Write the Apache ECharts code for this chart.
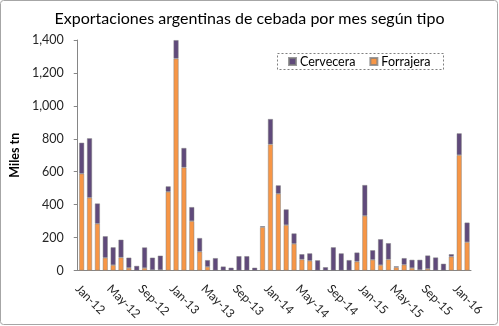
<!DOCTYPE html>
<html>
<head>
<meta charset="utf-8">
<script src="https://cdn.jsdelivr.net/npm/echarts@6/dist/echarts.min.js"></script>
<style>
  html, body { margin: 0; padding: 0; background: #ffffff; }
  #chart { width: 499px; height: 326px; }
</style>
</head>
<body>
<div id="chart"></div>
<script>
// Monthly categories, Jan-12 .. Feb-16
const months = [
  'Jan-12','Feb-12','Mar-12','Apr-12','May-12','Jun-12','Jul-12','Aug-12','Sep-12','Oct-12','Nov-12','Dec-12',
  'Jan-13','Feb-13','Mar-13','Apr-13','May-13','Jun-13','Jul-13','Aug-13','Sep-13','Oct-13','Nov-13','Dec-13',
  'Jan-14','Feb-14','Mar-14','Apr-14','May-14','Jun-14','Jul-14','Aug-14','Sep-14','Oct-14','Nov-14','Dec-14',
  'Jan-15','Feb-15','Mar-15','Apr-15','May-15','Jun-15','Jul-15','Aug-15','Sep-15','Oct-15','Nov-15','Dec-15',
  'Jan-16','Feb-16'
];

// Forage barley (thousand tonnes)
const forrajera = [
  588, 442, 284,  77,  33,  79,  16,   0,  15,   3,   3, 478,
  1287, 626, 300, 114,  22,   0,   0,   0,   0,   0,   0, 263,
  766, 466, 276, 162,  67,  59,   0,   0,   0,   0,   0,  54,
  332,  65,  33,  67,  19,  35,  15,   3,  10,   0,   0,  84,
  701, 172
];

// Malting barley (thousand tonnes)
const cervecera = [
  188, 361, 123, 131, 108, 108,  62,  28, 125,  75,  87,  33,
  112, 118,  85,  83,  41,  75,  24,  17,  87,  87,  17,   6,
  154,  51,  95,  63,  32,  45,  62,  20, 141, 104,  63,  55,
  187,  58, 157,  99,   6,  40,  50,  62,  81,  79,  41,  15,
  132, 119
];

const yMin = 0;
const yMax = 1400;
const yStep = 200;

const titleText = 'Exportaciones argentinas de cebada por mes según tipo';
const yName = 'Miles tn';
const seriesNames = ['Cervecera', 'Forrajera'];

const FONT = 'Lato, "Liberation Sans", sans-serif';
const PURPLE = '#604a7b';
const ORANGE = '#f79646';

const withCommas = v => String(v).replace(/\B(?=(\d{3})+(?!\d))/g, ',');

const chart = echarts.init(document.getElementById('chart'), null, { renderer: 'canvas' });

chart.setOption({
  animation: false,
  backgroundColor: '#ffffff',
  title: {
    text: titleText,
    left: 'center',
    top: 6,
    textStyle: { fontFamily: FONT, fontSize: 16, fontWeight: 'normal', color: '#000000' }
  },
  legend: {
    data: seriesNames,
    left: 288,
    top: 55,
    padding: 0,
    itemWidth: 7,
    itemHeight: 7,
    itemGap: 14,
    icon: 'rect',
    textStyle: { fontFamily: FONT, fontSize: 12.5, color: '#000000', padding: [0, 0, 0, -1] }
  },
  grid: { left: 71, right: 28, top: 40, bottom: 55.5, containLabel: false },
  xAxis: {
    type: 'category',
    data: months,
    boundaryGap: true,
    axisLine: { lineStyle: { color: '#868686', width: 1 } },
    axisTick: { interval: 3, length: 4, lineStyle: { color: '#868686' } },
    axisLabel: {
      interval: 3,
      rotate: -45,
      margin: 12,
      verticalAlign: 'top',
      fontFamily: FONT,
      fontSize: 12,
      color: '#262626'
    },
    splitLine: { show: false }
  },
  yAxis: {
    type: 'value',
    min: yMin,
    max: yMax,
    interval: yStep,
    name: yName,
    nameLocation: 'middle',
    nameRotate: 90,
    nameGap: 44,
    nameTextStyle: { fontFamily: FONT, fontSize: 12.5, fontWeight: 'bold', color: '#000000' },
    axisLine: { show: true, lineStyle: { color: '#868686', width: 1 } },
    axisTick: { show: true, length: 4, lineStyle: { color: '#868686' } },
    axisLabel: {
      margin: 14,
      fontFamily: FONT,
      fontSize: 12.5,
      color: '#262626',
      formatter: withCommas
    },
    splitLine: { show: false }
  },
  graphic: [
    {
      type: 'rect',
      shape: { x: 0.5, y: 0.5, width: 497, height: 324, r: 3 },
      style: { fill: 'none', stroke: '#a6a6a6', lineWidth: 1 },
      silent: true, z: 100
    },
    {
      type: 'rect',
      shape: { x: 277.5, y: 53.5, width: 166, height: 16 },
      style: { fill: 'none', stroke: '#7f7f7f', lineWidth: 1, lineDash: [2, 2] },
      silent: true, z: 100
    }
  ],
  series: [
    {
      name: 'Forrajera',
      type: 'bar',
      stack: 'total',
      barWidth: 5,
      data: forrajera,
      itemStyle: { color: ORANGE, borderColor: 'rgba(128,128,128,0.8)', borderWidth: 0.6 }
    },
    {
      name: 'Cervecera',
      type: 'bar',
      stack: 'total',
      barWidth: 5,
      data: cervecera,
      itemStyle: { color: PURPLE, borderColor: 'rgba(128,128,128,0.8)', borderWidth: 0.6 }
    }
  ]
});
</script>
</body>
</html>
